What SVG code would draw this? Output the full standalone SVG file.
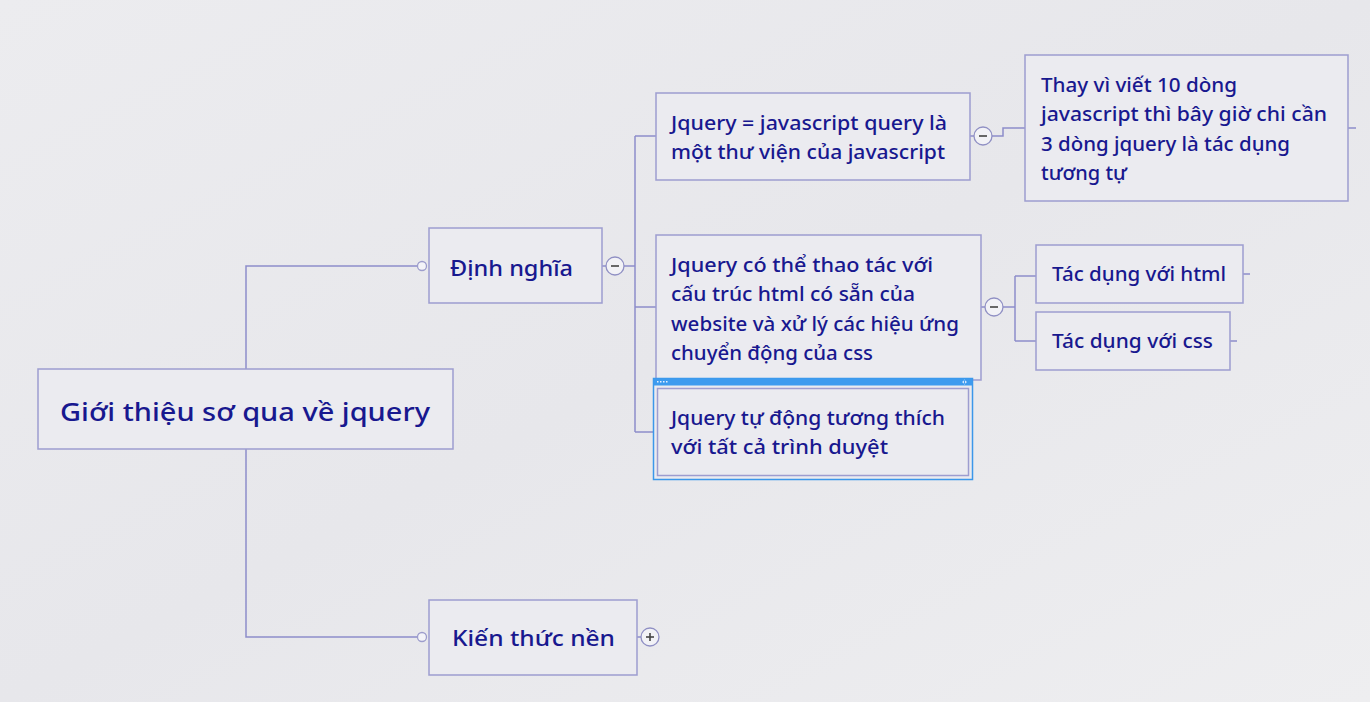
<svg xmlns="http://www.w3.org/2000/svg" width="1370" height="702" viewBox="0 0 1370 702">
<defs>
<linearGradient id="bg" x1="0" y1="0" x2="1" y2="1">
<stop offset="0" stop-color="#ececef"/>
<stop offset="0.5" stop-color="#e7e7eb"/>
<stop offset="1" stop-color="#eeeef0"/>
</linearGradient>
</defs>
<style>
.box{fill:#ebebf0;stroke:#9d9dd0;stroke-width:1.5}
.ln{fill:none;stroke:#8d8dca;stroke-width:1.5}
.t{font-family:"Comic Sans MS","Noto Sans","DejaVu Sans",sans-serif;fill:#18188f;font-weight:500}
.s20{font-size:19px}
.s22{font-size:22px}
.s26{font-size:25px}
.dot{fill:#f4f4f8;stroke:#9d9dcc;stroke-width:1.3}
.btn{fill:#f2f2f6;stroke:#9090c4;stroke-width:1.3}
.sym{stroke:#444;stroke-width:1.6}
</style>
<rect width="1370" height="702" fill="url(#bg)"/>
<g id="connectors">
<path class="ln" d="M246 369 V266 H421"/>
<path class="ln" d="M246 449 V637 H421"/>
<path class="ln" d="M602 266 H606 M624 266 H635 M635 136 V432 M635 136 H656 M635 307 H656 M635 432 H655"/>
<path class="ln" d="M970 136 H974 M992 136 H1003 V128 H1025"/>
<path class="ln" d="M981 307 H985 M1003 307 H1015 M1015 276 V341 M1015 276 H1036 M1015 341 H1036"/>
<path class="ln" d="M1348 128 H1356 M1243 274 H1250 M1230 341 H1237 M637 637 H641"/>
<circle class="dot" cx="422" cy="266" r="4.5"/>
<circle class="dot" cx="422" cy="637" r="4.5"/>
</g>
<g id="root">
<rect class="box" x="38" y="369" width="415" height="80"/>
<text class="t s26" x="60" y="421" textLength="370" lengthAdjust="spacingAndGlyphs">Giới thiệu sơ qua về jquery</text>
</g>
<g id="dinh-nghia">
<rect class="box" x="429" y="228" width="173" height="75"/>
<text class="t s22" x="450" y="276" textLength="123" lengthAdjust="spacingAndGlyphs">Định nghĩa</text>
<circle class="btn" cx="615" cy="266" r="9"/>
<line class="sym" x1="611" y1="266" x2="619" y2="266"/>
</g>
<g id="kien-thuc-nen">
<rect class="box" x="429" y="600" width="208" height="75"/>
<text class="t s22" x="452" y="646" textLength="163" lengthAdjust="spacingAndGlyphs">Kiến thức nền</text>
<circle class="btn" cx="650" cy="637" r="9"/>
<line class="sym" x1="646" y1="637" x2="654" y2="637"/>
<line class="sym" x1="650" y1="633" x2="650" y2="641"/>
</g>
<g id="jquery-def">
<rect class="box" x="656" y="93" width="314" height="87"/>
<text class="t s20" x="671" y="130" textLength="276" lengthAdjust="spacingAndGlyphs">Jquery = javascript query là</text>
<text class="t s20" x="671" y="159" textLength="274" lengthAdjust="spacingAndGlyphs">một thư viện của javascript</text>
<circle class="btn" cx="983" cy="136" r="9"/>
<line class="sym" x1="979" y1="136" x2="987" y2="136"/>
</g>
<g id="thay-vi">
<rect class="box" x="1025" y="55" width="323" height="146"/>
<text class="t s20" x="1041" y="92" textLength="196" lengthAdjust="spacingAndGlyphs">Thay vì viết 10 dòng</text>
<text class="t s20" x="1041" y="121" textLength="286" lengthAdjust="spacingAndGlyphs">javascript thì bây giờ chi cần</text>
<text class="t s20" x="1041" y="151" textLength="249" lengthAdjust="spacingAndGlyphs">3 dòng jquery là tác dụng</text>
<text class="t s20" x="1041" y="180" textLength="86" lengthAdjust="spacingAndGlyphs">tương tự</text>
</g>
<g id="thao-tac">
<rect class="box" x="656" y="235" width="325" height="145"/>
<text class="t s20" x="671" y="272" textLength="262" lengthAdjust="spacingAndGlyphs">Jquery có thể thao tác với</text>
<text class="t s20" x="671" y="301" textLength="244" lengthAdjust="spacingAndGlyphs">cấu trúc html có sẵn của</text>
<text class="t s20" x="671" y="331" textLength="288" lengthAdjust="spacingAndGlyphs">website và xử lý các hiệu ứng</text>
<text class="t s20" x="671" y="360" textLength="202" lengthAdjust="spacingAndGlyphs">chuyển động của css</text>
<circle class="btn" cx="994" cy="307" r="9"/>
<line class="sym" x1="990" y1="307" x2="998" y2="307"/>
</g>
<g id="tac-dung-html">
<rect class="box" x="1036" y="245" width="207" height="58"/>
<text class="t s20" x="1052" y="281" textLength="174" lengthAdjust="spacingAndGlyphs">Tác dụng với html</text>
</g>
<g id="tac-dung-css">
<rect class="box" x="1036" y="312" width="194" height="58"/>
<text class="t s20" x="1052" y="348" textLength="161" lengthAdjust="spacingAndGlyphs">Tác dụng với css</text>
</g>
<g id="tuong-thich">
<rect x="653.5" y="378.5" width="319" height="101" fill="#ebebf0" stroke="#3b97ea" stroke-width="1.5"/>
<rect x="653.5" y="378.5" width="319" height="7" fill="#3d9bef"/>
<g fill="#e6f0ff">
<rect x="657" y="381" width="1.5" height="1.5"/><rect x="660" y="381" width="1.5" height="1.5"/><rect x="663" y="381" width="1.5" height="1.5"/><rect x="666" y="381" width="1.5" height="1.5"/>
<path d="M962 382 l3 -2.5 v5 z M967 382 l-3 -2.5 v5 z" fill="#d8e8ff"/>
</g>
<rect x="657.5" y="388.5" width="311" height="87" fill="none" stroke="#9d9dd0" stroke-width="1.5"/>
<text class="t s20" x="671" y="425" textLength="274" lengthAdjust="spacingAndGlyphs">Jquery tự động tương thích</text>
<text class="t s20" x="671" y="454" textLength="217" lengthAdjust="spacingAndGlyphs">với tất cả trình duyệt</text>
</g>
</svg>
